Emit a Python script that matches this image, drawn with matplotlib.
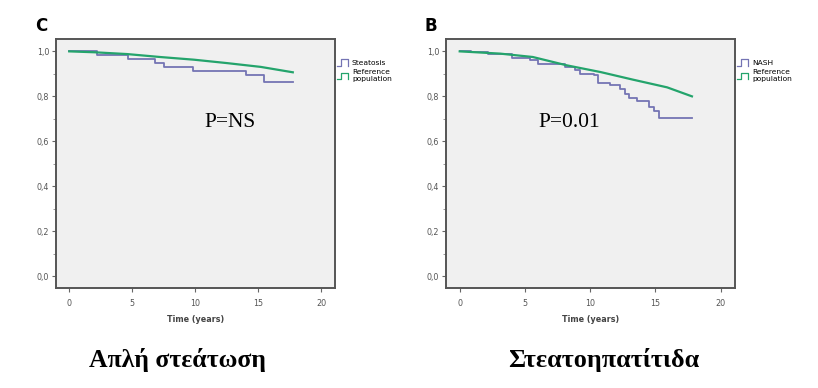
"""
Kaplan-Meier style survival comparison: simple steatosis vs NASH
against the reference population.
"""

import matplotlib
matplotlib.use("Agg")
import matplotlib.pyplot as plt
from matplotlib.lines import Line2D
from matplotlib.legend_handler import HandlerBase
from matplotlib.ticker import MultipleLocator, FuncFormatter

# Panel C: simple steatosis (step curve) and reference population
steatosis_t = [0.0, 2.2, 4.7, 6.8, 7.5, 9.8, 14.0, 15.5, 17.75]
steatosis_s = [1.0, 0.985, 0.968, 0.948, 0.931, 0.911, 0.893, 0.862, 0.862]
ref_c_t = [0.0, 2.0, 4.6, 7.2, 9.9, 12.5, 15.2, 17.75]
ref_c_s = [1.0, 0.996, 0.988, 0.975, 0.963, 0.948, 0.931, 0.907]

# Panel B: NASH (step curve) and reference population
nash_t = [0.0, 0.9, 2.2, 4.0, 5.4, 6.0, 8.1, 8.8, 9.2, 10.3, 10.6, 11.5,
          12.3, 12.7, 13.0, 13.6, 14.5, 14.9, 15.3, 17.8]
nash_s = [1.0, 0.996, 0.987, 0.972, 0.960, 0.945, 0.930, 0.915, 0.900,
          0.893, 0.861, 0.849, 0.831, 0.812, 0.794, 0.779, 0.752, 0.734,
          0.703, 0.703]
ref_b_t = [0.0, 3.1, 5.6, 8.2, 10.8, 13.3, 15.9, 17.8]
ref_b_s = [1.0, 0.990, 0.975, 0.938, 0.908, 0.874, 0.840, 0.800]

x_ticks = [0, 5, 10, 15, 20]
y_ticks = [0.0, 0.2, 0.4, 0.6, 0.8, 1.0]

PURPLE = "#7474b4"
GREEN = "#24a46c"
PANEL_BG = "#f0f0f0"
SPINE = "#555555"


class StepHandler(HandlerBase):
    """Draw the little SPSS-style step glyph in the legend"""

    def create_artists(self, legend, orig_handle, xdescent, ydescent,
                       width, height, fontsize, trans):
        x0, w, h = -xdescent, width, height
        xs = [x0, x0 + w * 0.35, x0 + w * 0.35, x0 + w * 0.9, x0 + w * 0.9]
        ys = [-ydescent - h * 0.2, -ydescent - h * 0.2, h * 1.1, h * 1.1,
              -ydescent - h * 0.2]
        line = Line2D(xs, ys, color=orig_handle.get_color(), lw=0.9,
                      transform=trans)
        return [line]


def style_axes(ax):
    ax.set_facecolor(PANEL_BG)
    ax.set_xlim(-1.05, 21.1)
    ax.set_ylim(-0.052, 1.055)
    ax.set_xticks(x_ticks)
    ax.set_yticks(y_ticks)
    ax.yaxis.set_minor_locator(MultipleLocator(0.1))
    ax.yaxis.set_major_formatter(
        FuncFormatter(lambda v, _: f"{v:.1f}".replace(".", ","))
    )
    for sp in ax.spines.values():
        sp.set_color(SPINE)
        sp.set_linewidth(1.4)
    ax.tick_params(axis="both", which="major", direction="out", length=3,
                   width=0.8, color="#666666", labelsize=5.8,
                   labelcolor="#555555", pad=2)
    ax.tick_params(axis="x", which="major", pad=5)
    ax.tick_params(axis="y", which="minor", direction="out", length=2,
                   width=0.6, color="#888888")
    ax.set_xlabel("Time (years)", fontsize=5.8, fontweight="bold",
                  color="#444444", labelpad=5)


def draw_panel(ax, km_t, km_s, ref_t, ref_s, label, p_text, p_x, letter):
    style_axes(ax)
    ax.step(km_t, km_s, where="post", color=PURPLE, lw=1.3)
    ax.plot(ref_t, ref_s, color=GREEN, lw=1.6)
    ax.text(p_x, 0.664, p_text, fontsize=15.5, family="Liberation Serif",
            ha="left", va="baseline")
    ax.text(-0.031, 1.016, letter, transform=ax.transAxes, fontsize=12,
            fontweight="bold", ha="right", va="bottom")
    handles = [Line2D([], [], color=PURPLE), Line2D([], [], color=GREEN)]
    ax.legend(handles, [label, "Reference\npopulation"],
              handler_map={Line2D: StepHandler()},
              loc="upper left", bbox_to_anchor=(0.995, 0.93), frameon=False,
              fontsize=5.4, handlelength=1.7, handletextpad=0.35,
              labelspacing=0.5, borderaxespad=0.0)


fig = plt.figure(figsize=(8.18, 3.88), dpi=100)
W, H = 818, 388
ax_c = fig.add_axes([56 / W, 1 - 288 / H, (335 - 56) / W, (288 - 39) / H])
ax_b = fig.add_axes([446 / W, 1 - 288 / H, (735 - 446) / W, (288 - 39) / H])

draw_panel(ax_c, steatosis_t, steatosis_s, ref_c_t, ref_c_s,
           "Steatosis", "P=NS", 10.7, "C")
draw_panel(ax_b, nash_t, nash_s, ref_b_t, ref_b_s,
           "NASH", "P=0.01", 6.0, "B")

fig.text(177 / W, 1 - 360 / H, "Απλή στεάτωση", fontsize=18.5,
         fontweight="bold", family="Liberation Serif", ha="center",
         va="center")
fig.text(604 / W, 1 - 360 / H, "Στεατοηπατίτιδα", fontsize=18.8,
         fontweight="bold", family="Liberation Serif", ha="center",
         va="center")

fig.savefig("out.png", dpi=100)
